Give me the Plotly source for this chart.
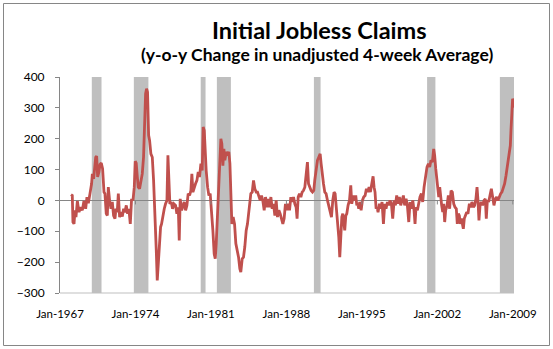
import plotly.graph_objects as go

# ---- data (decimal year, y-o-y change in thousands) ----
yrs_a = [1968.02,1968.14,1968.20,1968.30,1968.39,1968.48,1968.61,1968.76,1968.92,1969.07,1969.22,1969.38,1969.50,1969.63,1969.78,1969.93,1970.00,1970.12,1970.31,1970.40,1970.49,1970.61,1970.71,1970.83,1970.95,1971.08,1971.17,1971.29,1971.39,1971.48,1971.60,1971.73,1971.85,1971.97,1972.10,1972.19,1972.31,1972.41,1972.53,1972.65,1972.78,1972.90,1973.02,1973.15,1973.27,1973.39,1973.52,1973.64,1973.77,1973.89,1973.98,1974.07,1974.17,1974.26,1974.38,1974.51,1974.63,1974.75,1974.85,1974.94,1975.03,1975.12,1975.22,1975.31,1975.43,1975.56,1975.68,1975.74,1975.84,1975.93,1976.02]
vals_a = [19,16,-70,-76,-32,-54,-2,-38,-22,-32,-2,-27,11,-9,22,54,86,70,140,144,76,92,117,121,103,27,22,-43,-49,43,0,-27,-5,-49,-59,-27,-38,22,-54,-38,-52,-27,-38,-16,-43,-27,-76,5,0,43,127,121,76,43,38,59,86,140,270,346,362,351,211,194,151,140,65,22,-76,-162,-259]

yrs_b = [1976.21,1976.33,1976.42,1976.55,1976.67,1976.79,1976.92,1977.01,1977.10,1977.19,1977.32,1977.44,1977.57,1977.72,1977.84,1977.97,1978.06,1978.15,1978.28,1978.40,1978.52,1978.65,1978.77,1978.89,1979.02,1979.14,1979.23,1979.33,1979.45,1979.57,1979.70,1979.82,1979.94,1980.07,1980.19,1980.28,1980.38,1980.47,1980.56,1980.69,1980.81,1980.93,1981.06,1981.18,1981.30,1981.40,1981.49,1981.61,1981.71,1981.83,1981.92,1982.01,1982.11,1982.20,1982.29,1982.42,1982.54,1982.66,1982.76,1982.85,1982.94,1983.06,1983.19,1983.31,1983.43,1983.56,1983.68,1983.77,1983.90,1984.02,1984.14,1984.27,1984.39,1984.52,1984.61]
vals_b = [-140,-86,-76,-43,-27,-11,0,146,76,-11,-5,-27,-11,-16,-43,-22,-130,5,-32,-16,-5,-32,-16,22,16,32,86,27,43,54,65,92,76,119,97,238,227,140,97,43,16,22,-32,-97,-173,-189,-140,-54,11,108,200,184,113,167,130,157,151,157,119,22,-76,-54,-76,-140,-162,-184,-221,-232,-189,-184,-151,-97,-76,-32,-11]

yrs_c = [1984.70,1984.83,1984.95,1985.07,1985.20,1985.32,1985.44,1985.57,1985.69,1985.81,1985.94,1986.06,1986.18,1986.31,1986.43,1986.56,1986.68,1986.80,1986.93,1987.05,1987.17,1987.30,1987.42,1987.54,1987.67,1987.79,1987.91,1988.04,1988.16,1988.29,1988.41,1988.53,1988.66,1988.78,1988.90,1988.99,1989.09,1989.21,1989.34,1989.46,1989.58,1989.71,1989.83,1989.95,1990.05,1990.17,1990.29,1990.42,1990.54,1990.63,1990.76,1990.88,1991.00,1991.13,1991.22,1991.31,1991.44,1991.56,1991.68,1991.81,1991.93,1992.05,1992.18,1992.30,1992.42,1992.52,1992.61,1992.73]
vals_c = [22,27,65,38,27,27,16,0,16,0,-32,11,-22,5,-22,11,-27,-11,-49,0,-54,-32,-43,-65,-76,-59,-11,-32,-11,-32,11,-5,11,-11,-22,-59,11,22,11,27,32,43,76,124,54,43,32,27,32,65,108,130,140,151,119,86,54,27,22,0,-16,-32,-54,0,27,22,-11,-54]

yrs_d = [1992.86,1992.95,1993.04,1993.14,1993.23,1993.32,1993.41,1993.51,1993.60,1993.72,1993.85,1993.97,1994.06,1994.15,1994.25,1994.34,1994.43,1994.53,1994.62,1994.71,1994.80,1994.93,1995.05,1995.17,1995.30,1995.42,1995.54,1995.67,1995.79,1995.92,1996.04,1996.13,1996.22,1996.32,1996.41,1996.50,1996.63,1996.75,1996.87,1997.00,1997.12,1997.24,1997.37,1997.49,1997.61,1997.74,1997.86,1997.99,1998.11,1998.23,1998.36,1998.48,1998.60,1998.73,1998.85,1998.97,1999.10,1999.22,1999.35,1999.47,1999.59,1999.72,1999.84,1999.93,2000.02,2000.15,2000.27,2000.39,2000.52,2000.64,2000.77]
vals_d = [-120,-184,-97,-54,-43,-65,-97,-49,-43,-16,0,49,-11,5,16,0,16,-16,-11,-27,-5,-32,0,11,16,38,27,43,27,54,78,43,27,-27,-22,-38,-11,-27,-5,-76,-11,-27,-5,-16,0,-11,-59,0,-16,16,-11,11,-16,0,16,-16,5,-16,-70,-5,-27,0,-32,-76,-22,-32,-5,11,22,-5,43]

yrs_e = [2000.92,2001.04,2001.17,2001.29,2001.41,2001.54,2001.66,2001.75,2001.85,2001.94,2002.03,2002.13,2002.22,2002.31,2002.40,2002.50,2002.59,2002.68,2002.77,2002.90,2003.02,2003.14,2003.27,2003.39,2003.52,2003.64,2003.76,2003.85,2003.95,2004.04,2004.13,2004.23,2004.32,2004.41,2004.50,2004.60,2004.72,2004.84,2004.97,2005.09,2005.21,2005.34,2005.46,2005.58,2005.68,2005.77,2005.86,2005.96,2006.08,2006.20,2006.33,2006.45,2006.54,2006.64,2006.76,2006.88,2007.01,2007.13,2007.25,2007.38,2007.50,2007.62,2007.75,2007.87,2007.99,2008.12,2008.24,2008.37,2008.49,2008.58,2008.67,2008.77,2008.83,2008.89,2008.92,2008.98,2009.05,2009.11]
vals_e = [86,108,119,108,130,124,167,146,103,65,54,11,43,5,-16,-38,-11,-70,-32,-16,16,-27,32,27,-11,-22,-27,-76,-43,-49,-76,-59,-81,-92,-59,-49,-38,-43,-11,-22,-5,-22,-16,5,43,0,-65,-16,-5,-16,0,5,-59,0,-5,16,38,11,-16,5,11,0,16,22,27,38,54,81,108,130,146,178,227,281,324,329,324,300]

# recession periods (shaded)
rec_start = [1969.95, 1973.85, 1980.05, 1981.55, 1990.55, 2001.05, 2007.80]
rec_end = [1970.85, 1975.20, 1980.50, 1982.85, 1991.17, 2001.82, 2009.50]

# axis ticks
x_tick_years = [1967, 1974, 1981, 1988, 1995, 2002, 2009]
x_tick_labels = ["Jan-1967", "Jan-1974", "Jan-1981", "Jan-1988", "Jan-1995", "Jan-2002", "Jan-2009"]
y_ticks = [-300, -200, -100, 0, 100, 200, 300, 400]

title_text = "Initial Jobless Claims"
subtitle_text = "(y-o-y Change in unadjusted 4-week Average)"

years = yrs_a + yrs_b + yrs_c + yrs_d + yrs_e
values = vals_a + vals_b + vals_c + vals_d + vals_e

W, H = 553, 349
L, R, T, B = 60, 514, 77, 293
FONT = "Lato"
AXIS_GRAY = "#868686"
X_RANGE = [1967.0, 2009.11]


def px_x(p):
    return (p - L) / (R - L)


def px_y(p):
    return (B - p) / (B - T)


fig = go.Figure()
fig.add_trace(go.Scatter(x=years, y=values, mode="lines",
                         line=dict(color="#C0504D", width=2.8),
                         hoverinfo="skip", showlegend=False))

shapes = []
# bottom line of the plot area
shapes.append(dict(type="line", xref="paper", yref="paper", x0=0, x1=1, y0=0, y1=0,
                   line=dict(color="#BFBFBF", width=1), layer="below"))
for s, e in zip(rec_start, rec_end):
    shapes.append(dict(type="rect", xref="x", yref="paper", x0=s, x1=min(e, X_RANGE[1]),
                       y0=0, y1=1, fillcolor="#BFBFBF", line=dict(width=0), layer="below"))
# small tick marks on the zero-line axis
for ty in x_tick_years[1:]:
    shapes.append(dict(type="line", xref="x", yref="y", x0=ty, x1=ty, y0=0, y1=-13,
                       line=dict(color=AXIS_GRAY, width=1), layer="above"))
# outer chart border
shapes.append(dict(type="rect", xref="paper", yref="paper",
                   x0=px_x(3.5), x1=px_x(549.5), y0=px_y(345.5), y1=px_y(3.5),
                   line=dict(color=AXIS_GRAY, width=1), fillcolor="rgba(0,0,0,0)", layer="below"))

fig.update_layout(
    width=W, height=H, autosize=False,
    margin=dict(l=L, r=W - R, t=T, b=H - B, pad=0),
    paper_bgcolor="white", plot_bgcolor="white",
    shapes=shapes,
    showlegend=False,
    annotations=[
        dict(text="<b>" + title_text + "</b>", xref="paper", yref="paper",
             x=px_x(319), y=px_y(30), xanchor="center", yanchor="middle", showarrow=False,
             font=dict(family=FONT, size=23.5, color="black")),
        dict(text="<b>" + subtitle_text + "</b>", xref="paper", yref="paper",
             x=px_x(317), y=px_y(54), xanchor="center", yanchor="middle", showarrow=False,
             font=dict(family=FONT, size=17.5, color="black")),
    ],
)

fig.update_xaxes(range=X_RANGE, tickmode="array", tickvals=x_tick_years, ticktext=x_tick_labels,
                 showgrid=False, zeroline=False, showline=False, ticks="", ticklabelstandoff=12,
                 tickfont=dict(family=FONT, size=11.5, color="black"), fixedrange=True)
fig.update_yaxes(range=[-300, 400], tickmode="array", tickvals=y_ticks,
                 showgrid=False, zeroline=True, zerolinecolor=AXIS_GRAY, zerolinewidth=1,
                 showline=True, linecolor=AXIS_GRAY, linewidth=1,
                 ticks="outside", ticklen=4, tickcolor=AXIS_GRAY, ticklabelstandoff=8,
                 tickfont=dict(family=FONT, size=12, color="black"), fixedrange=True)

fig.write_html("out.html")
